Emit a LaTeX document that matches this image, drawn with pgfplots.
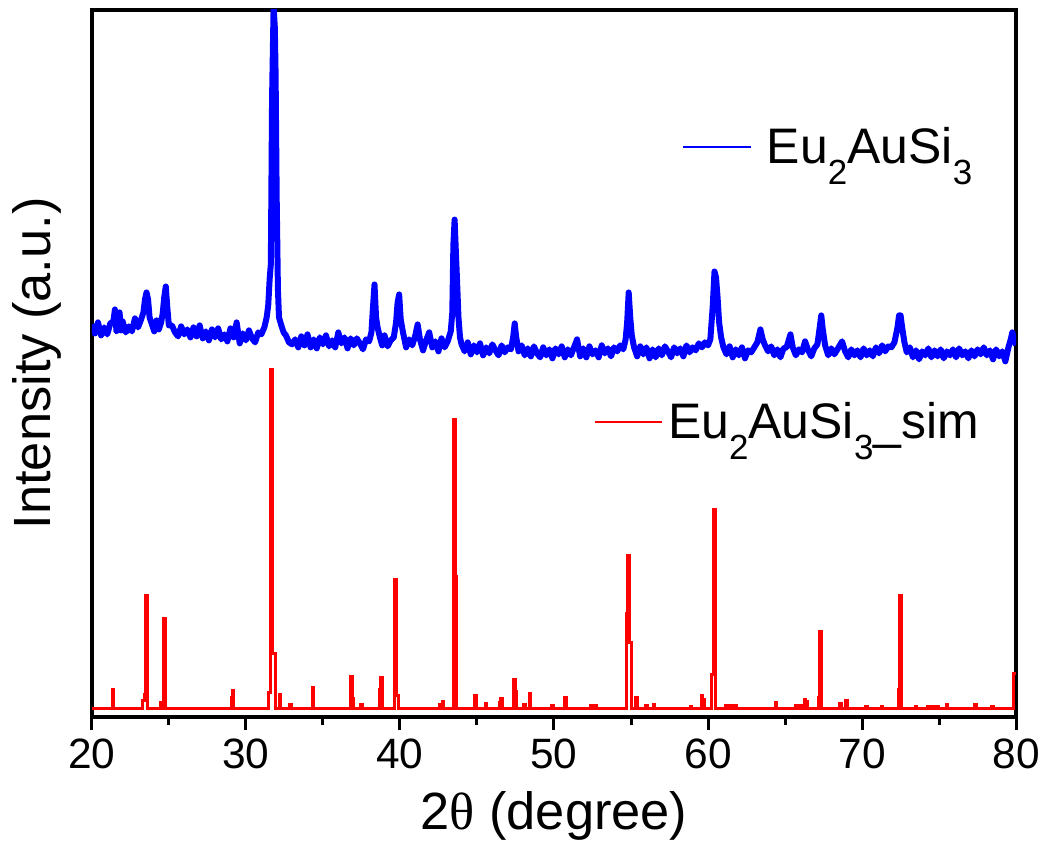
\documentclass[border=0pt]{standalone}
\usepackage{fontspec}
\setmainfont{Liberation Sans}
\newfontfamily\greekserif{Liberation Serif}
\usepackage{pgfplots}
\pgfplotsset{compat=1.18}
\usepackage{pgfplotstable}

\newcommand\sub[1]{\raisebox{-8.5bp}{\fontsize{14bp}{14bp}\selectfont #1}}

% measured sample (blue), y = arbitrary units
\pgfplotstableread{
x y
20.0 393
20.2 384
20.4 395
20.6 382
20.8 390
21.0 383
21.2 394
21.4 396
21.5 408
21.6 386
21.7 388
21.8 405
21.9 387
22.0 396
22.2 385
22.4 391
22.6 386
22.8 399
23.0 390
23.2 398
23.35 405
23.45 418
23.55 425
23.65 418
23.75 400
23.9 393
24.05 386
24.2 397
24.35 388
24.5 395
24.6 404
24.7 420
24.8 431
24.9 410
25.0 392
25.2 392
25.4 385
25.6 381
25.8 391
26.0 383
26.2 388
26.4 380
26.6 390
26.8 381
27.0 392
27.2 379
27.4 386
27.6 377
27.8 388
28.0 380
28.2 389
28.4 378
28.6 383
28.8 376
29.0 389
29.2 380
29.4 395
29.6 374
29.8 384
30.0 377
30.2 387
30.4 379
30.6 375
30.8 385
31.0 383
31.2 390
31.35 400
31.45 412
31.55 440
31.62 453
31.7 620
31.8 712
31.88 690
31.93 643
32.0 520
32.08 428
32.15 400
32.3 392
32.45 385
32.6 382
32.8 375
33.0 373
33.2 378
33.4 370
33.6 381
33.8 372
34.0 383
34.2 370
34.4 378
34.6 369
34.8 380
35.0 373
35.2 382
35.4 371
35.6 377
35.8 370
36.0 385
36.2 374
36.4 380
36.6 369
36.8 379
37.0 372
37.2 379
37.4 374
37.6 368
37.8 378
38.0 376
38.15 385
38.25 410
38.35 433
38.45 400
38.55 390
38.7 380
38.85 372
39.0 382
39.2 371
39.4 377
39.6 380
39.75 395
39.85 415
39.95 423
40.05 398
40.2 385
40.4 370
40.6 378
40.8 372
41.0 382
41.15 393
41.3 378
41.5 367
41.7 377
41.9 385
42.1 370
42.3 376
42.5 366
42.7 379
42.9 370
43.1 376
43.3 386
43.4 405
43.47 473
43.55 498
43.62 470
43.7 440
43.8 400
43.9 380
44.0 373
44.2 366
44.4 375
44.6 363
44.8 372
45.0 365
45.2 374
45.4 362
45.6 370
45.8 364
46.0 373
46.2 367
46.4 362
46.6 372
46.8 365
47.0 370
47.2 368
47.35 380
47.45 394
47.55 380
47.7 366
47.9 372
48.1 362
48.3 369
48.5 361
48.7 371
48.9 364
49.1 360
49.3 370
49.5 362
49.7 368
49.9 359
50.1 369
50.3 363
50.5 371
50.7 360
50.9 368
51.1 362
51.3 370
51.5 378
51.7 361
51.9 369
52.1 360
52.3 371
52.5 363
52.7 367
52.9 360
53.1 372
53.3 364
53.5 369
53.7 361
53.9 370
54.1 366
54.3 372
54.5 368
54.65 378
54.75 395
54.85 425
54.95 400
55.05 382
55.2 370
55.4 361
55.6 371
55.8 363
56.0 370
56.2 359
56.4 368
56.6 360
56.8 369
57.0 362
57.2 371
57.4 366
57.6 360
57.8 370
58.0 364
58.2 369
58.4 361
58.6 372
58.8 365
59.0 370
59.2 367
59.4 374
59.6 370
59.8 375
60.0 372
60.15 378
60.3 410
60.42 446
60.52 440
60.62 420
60.72 395
60.85 380
61.0 370
61.2 363
61.4 371
61.6 360
61.8 368
62.0 362
62.2 370
62.4 359
62.6 367
62.8 365
63.0 370
63.2 375
63.4 388
63.55 378
63.7 372
63.9 366
64.1 371
64.3 362
64.5 368
64.7 360
64.9 369
65.1 370
65.35 383
65.5 370
65.7 362
65.9 368
66.1 365
66.3 376
66.5 367
66.7 361
66.9 369
67.1 373
67.25 390
67.35 402
67.45 388
67.6 372
67.8 362
68.0 369
68.2 363
68.4 368
68.7 376
68.9 366
69.1 360
69.3 368
69.5 362
69.7 367
69.9 360
70.1 369
70.3 362
70.5 367
70.7 361
70.9 370
71.1 364
71.3 372
71.5 366
71.7 371
71.9 370
72.1 375
72.3 390
72.4 402
72.5 402
72.6 390
72.75 375
72.9 365
73.1 370
73.3 360
73.5 367
73.7 358
73.9 366
74.1 362
74.3 369
74.5 360
74.7 367
74.9 361
75.1 368
75.3 359
75.5 366
75.7 362
75.9 368
76.1 360
76.3 369
76.5 362
76.7 366
76.9 359
77.1 367
77.3 361
77.5 368
77.7 363
77.9 370
78.1 362
78.3 367
78.5 358
78.7 368
78.9 361
79.1 366
79.3 356
79.5 370
79.65 378
79.75 385
79.85 380
80.0 372
}\measured

% simulated pattern (red), baseline 8
\pgfplotstableread{
x y
20.0 8
21.31 8
21.31 27
21.41 27
21.41 8
23.30 8
23.30 16
23.40 16
23.40 22
23.50 22
23.50 121
23.61 121
23.61 8
24.45 8
24.45 14
24.55 14
24.55 8
24.68 8
24.68 98
24.78 98
24.78 8
29.08 8
29.08 19
29.12 19
29.12 26
29.20 26
29.20 8
31.45 8
31.45 24
31.58 24
31.58 348
31.76 348
31.76 63
31.90 63
31.90 8
32.15 8
32.15 22
32.25 22
32.25 8
32.85 8
32.85 12
32.95 12
32.95 8
34.30 8
34.30 29
34.40 29
34.40 8
36.76 8
36.76 31
36.80 31
36.80 40
36.90 40
36.90 18
37.00 18
37.00 8
37.45 8
37.45 12
37.55 12
37.55 8
38.66 8
38.66 27
38.74 27
38.74 39
38.84 39
38.84 8
39.64 8
39.64 137
39.78 137
39.78 21
39.88 21
39.88 8
42.55 8
42.55 12
42.65 12
42.65 8
42.75 8
42.75 15
42.85 15
42.85 8
43.45 8
43.45 298
43.58 298
43.58 140
43.68 140
43.68 8
44.85 8
44.85 21
44.95 21
44.95 8
45.55 8
45.55 13
45.65 13
45.65 8
46.45 8
46.45 14
46.55 14
46.55 18
46.65 18
46.65 8
47.40 8
47.40 37
47.50 37
47.50 25
47.58 25
47.58 8
48.05 8
48.05 12
48.15 12
48.15 8
48.40 8
48.40 23
48.50 23
48.50 8
49.85 8
49.85 11
49.95 11
49.95 8
50.70 8
50.70 19
50.80 19
50.80 8
52.35 8
52.35 11
52.45 11
52.45 8
52.65 8
52.65 11
52.75 11
52.75 8
54.70 8
54.70 103
54.76 103
54.76 161
54.92 161
54.92 74
55.02 74
55.02 8
55.30 8
55.30 19
55.40 19
55.40 8
55.95 8
55.95 11
56.05 11
56.05 8
56.45 8
56.45 12
56.55 12
56.55 8
58.85 8
58.85 10
58.95 10
58.95 8
59.55 8
59.55 21
59.65 21
59.65 17
59.80 17
59.80 8
60.25 8
60.25 42
60.33 42
60.33 208
60.50 208
60.50 8
61.15 8
61.15 11
61.25 11
61.25 8
61.45 8
61.45 11
61.55 11
61.55 8
61.75 8
61.75 11
61.85 11
61.85 8
64.35 8
64.35 14
64.45 14
64.45 8
65.65 8
65.65 11
65.75 11
65.75 8
65.95 8
65.95 11
66.05 11
66.05 8
66.25 8
66.25 17
66.35 17
66.35 15
66.45 15
66.45 8
67.15 8
67.15 19
67.22 19
67.22 85
67.36 85
67.36 8
68.55 8
68.55 13
68.65 13
68.65 8
68.95 8
68.95 16
69.05 16
69.05 8
70.25 8
70.25 10
70.35 10
70.35 8
71.25 8
71.25 10
71.35 10
71.35 8
72.35 8
72.35 27
72.44 27
72.44 121
72.58 121
72.58 8
73.45 8
73.45 10
73.55 10
73.55 8
74.25 8
74.25 10
74.35 10
74.35 8
74.55 8
74.55 10
74.65 10
74.65 8
74.85 8
74.85 10
74.95 10
74.95 8
75.45 8
75.45 12
75.55 12
75.55 8
77.30 8
77.30 12
77.40 12
77.40 8
78.40 8
78.40 10
78.50 10
78.50 8
79.86 8
79.86 43
80.00 43
}\simulated

\pgfplotsset{
  xrdaxis/.style={
    scale only axis, width=370.4bp, height=283.2bp,
    xmin=20, xmax=80, ymin=0, ymax=708,
  },
  legendimg/.style={
    legend image code/.code={\draw[##1, line width=1bp] (0bp,0bp) -- (27bp,0bp);},
  },
}

\begin{document}
\begin{tikzpicture}
\begin{axis}[xrdaxis, name=ax,
    xtick={20,30,...,80}, minor x tick num=1, ytick=\empty,
    xtick pos=left, tick align=outside,
    major tick length=5.2bp, minor tick length=3.2bp,
    every tick/.style={black, line width=1.2bp},
    axis line style={line width=1.6bp},
    xticklabel style={font=\fontsize{17bp}{20bp}\selectfont},
    /pgf/number format/assume math mode=true,
    xlabel={2{\greekserif θ} (degree)},
    ylabel={Intensity (a.u.)},
    xlabel style={font=\fontsize{21bp}{24bp}\selectfont, at={(axis description cs:0.5,-0.141)}, anchor=center},
    ylabel style={font=\fontsize{21bp}{24bp}\selectfont, at={(axis description cs:-0.059,0.5)}, anchor=center, rotate=0},
    legendimg,
    legend style={at={(0.638,0.806)}, anchor=west, draw=none, fill=none,
      font=\fontsize{20bp}{24bp}\selectfont, inner sep=0pt},
  ]
  \addplot[blue, line width=2.4bp, line join=round] table[x=x, y=y] {\measured};
  \addlegendentry{\hspace{4bp}Eu\sub{2}AuSi\sub{3}}
\end{axis}
\begin{axis}[xrdaxis, at={(ax.south west)}, anchor=south west, hide axis,
    legendimg,
    legend style={at={(0.542,0.417)}, anchor=west, draw=none, fill=none,
      font=\fontsize{20bp}{24bp}\selectfont, inner sep=0pt},
  ]
  \addplot[red, line width=1.2bp] table[x=x, y=y] {\simulated};
  \addlegendentry{Eu\sub{2}AuSi\sub{3}\_sim}
\end{axis}
\path (ax.south west) ++(-36.8bp,-52.8bp) rectangle ++(419.2bp,340bp);
\end{tikzpicture}
\end{document}
